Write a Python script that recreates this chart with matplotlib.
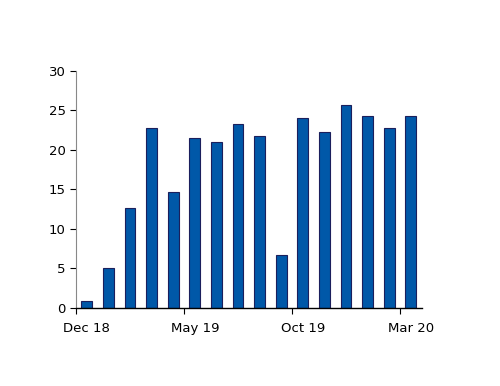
import matplotlib.pyplot as plt

months = ["Dec 18", "Jan 19", "Feb 19", "Mar 19", "Apr 19", "May 19", "Jun 19", "Jul 19",
          "Aug 19", "Sep 19", "Oct 19", "Nov 19", "Dec 19", "Jan 20", "Feb 20", "Mar 20"]
values = [0.9, 5.1, 12.6, 22.8, 14.6, 21.5, 21.0, 23.2, 21.8, 6.7, 24.0, 22.3, 25.6, 24.3, 22.7, 24.3]
tick_labels = ["Dec 18", "May 19", "Oct 19", "Mar 20"]

fig = plt.figure(figsize=(5, 3.86), dpi=100)
ax = fig.add_axes([0.152, 0.202, 0.691, 0.615])

pos = [i + 0.5 for i in range(len(values))]
ax.bar(pos, values, width=0.5, color="#0058a8", edgecolor="#1b1f5c", linewidth=0.8)

ax.set_xlim(0, len(values))
ax.set_ylim(0, 30)
ax.set_yticks(range(0, 31, 5))

# tick marks sit at month edges, labels are centred under the bars
ticks = [months.index(t) for t in tick_labels]
ax.set_xticks(ticks)
ax.set_xticklabels([])
ax.set_xticks([t + 0.5 for t in ticks], minor=True)
ax.set_xticklabels(tick_labels, minor=True)
ax.tick_params(axis="x", which="minor", length=0, labelsize=9.5, pad=10)

for s in ["top", "right"]:
    ax.spines[s].set_visible(False)
ax.spines["left"].set_color("#888888")
ax.spines["bottom"].set_color("black")
ax.spines["left"].set_linewidth(0.8)
ax.spines["bottom"].set_linewidth(1.0)
ax.tick_params(axis="both", which="major", labelsize=9.5, length=4, width=0.8)

fig.savefig("out.png")
